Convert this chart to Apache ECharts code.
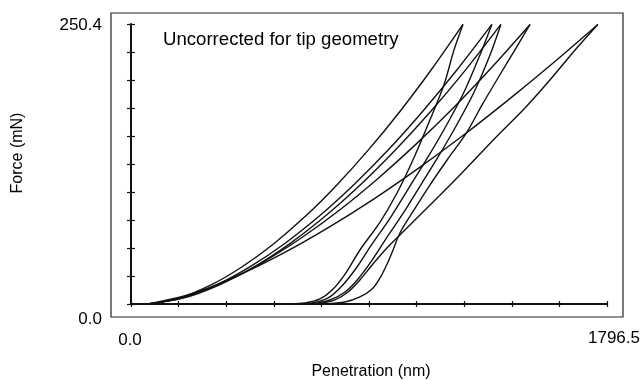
<!DOCTYPE html>
<html>
<head>
<meta charset="utf-8">
<script src="https://cdn.jsdelivr.net/npm/echarts@6/dist/echarts.min.js"></script>
<style>html,body{margin:0;padding:0;background:#fff;}#c{width:644px;height:380px;}</style>
</head>
<body>
<div id="c"></div>
<script>
// Axis ranges and tick labels
const xMax = 1796.5;
const yMax = 250.4;
const xTickLabels = ['0.0', '1796.5'];
const yTickLabels = ['0.0', '250.4'];
const xTitle = 'Penetration (nm)';
const yTitle = 'Force (mN)';
const noteText = 'Uncorrected for tip geometry';

// Loading curves [penetration nm, force mN]
const load1 = [[64,0],[183,5.4],[302,17.0],[421,33.5],[540,54.1],[659,78.6],[777,106.5],[896,137.8],[1015,172.2],[1134,209.7],[1253,250]];
const load2 = [[64,0],[194,5.5],[324,17.3],[453,33.9],[583,54.6],[713,79.1],[843,107.1],[973,138.3],[1102,172.6],[1232,209.9],[1362,250]];
const load3 = [[64,0],[197,5.2],[330,16.7],[464,33.1],[597,53.6],[730,78.0],[863,106.0],[996,137.3],[1130,171.9],[1263,209.4],[1396,250]];
const load4 = [[64,0],[208,6.6],[352,19.7],[497,37.3],[641,58.8],[785,83.6],[929,111.6],[1073,142.3],[1218,175.7],[1362,211.7],[1506,250]];
const load5 = [[64,0],[234,9.5],[404,25.4],[573,45.2],[743,68.1],[913,93.4],[1083,121.1],[1253,150.7],[1422,182.1],[1592,215.3],[1762,250]];

// Unloading curves
const unload1 = [[1253,250],[1219,227.2],[1181,195.9],[1125,162.8],[1064,128.8],[1004,99.3],[940,73.3],[864,48.3],[808,26.8],[759,12.5],[713,4.5],[657,0.9],[600,0]];
const unload2 = [[1362,250],[1317,222.7],[1257,189.6],[1189,159.2],[1121,131.5],[1053,105.5],[978,76.9],[910,53.7],[853,33.1],[796,16.1],[744,5.4],[683,0.9],[619,0]];
const unload3 = [[1396,250],[1355,222.7],[1295,189.6],[1227,159.2],[1159,131.5],[1091,105.5],[1023,79.6],[959,57.2],[910,39.3],[857,22.4],[808,10.7],[751,3.6],[683,0]];
const unload4 = [[1506,250],[1449,227.2],[1385,202.1],[1325,178.0],[1268,153.8],[1193,128.8],[1128,106.4],[1068,84.1],[1015,63.5],[989,48.3],[970,37.6],[940,23.3],[910,13.4],[864,6.3],[808,1.8],[732,0]];
const unload5 = [[1762,250],[1676,227.2],[1581,200.3],[1487,175.3],[1393,152.9],[1306,131.5],[1234,113.6],[1159,95.7],[1083,77.8],[1015,61.7],[959,48.3],[910,34.9],[864,21.5],[819,10.7],[770,3.6],[706,0]];

const curves = [load1, load2, load3, load4, load5, unload1, unload2, unload3, unload4, unload5];

const chart = echarts.init(document.getElementById('c'), null, {renderer: 'canvas'});
const axisCommon = {type: 'value', splitLine: {show: false}, axisLabel: {show: false}};
const lineCol = '#111';
const font17 = '17px "Liberation Sans", Arial, sans-serif';
const font16 = '16px "Liberation Sans", Arial, sans-serif';

chart.setOption({
  animation: false,
  backgroundColor: '#fff',
  grid: {left: 131, right: 37, top: 24, bottom: 76, containLabel: false},
  xAxis: [
    Object.assign({}, axisCommon, {min: 0, max: xMax, interval: xMax / 10, position: 'bottom',
      axisLine: {show: true, lineStyle: {color: lineCol, width: 2}},
      axisTick: {show: true, length: 3, lineStyle: {color: lineCol, width: 1.2}}}),
    Object.assign({}, axisCommon, {min: 0, max: xMax, interval: xMax / 10, position: 'bottom',
      axisLine: {show: false},
      axisTick: {show: true, inside: true, length: 3, lineStyle: {color: lineCol, width: 1.2}}})
  ],
  yAxis: [
    Object.assign({}, axisCommon, {min: 0, max: yMax, interval: yMax / 10, position: 'left',
      axisLine: {show: true, lineStyle: {color: lineCol, width: 2}},
      axisTick: {show: true, length: 4, lineStyle: {color: lineCol, width: 1.2}}}),
    Object.assign({}, axisCommon, {min: 0, max: yMax, interval: yMax / 10, position: 'left',
      axisLine: {show: false},
      axisTick: {show: true, inside: true, length: 4, lineStyle: {color: lineCol, width: 1.2}}})
  ],
  series: curves.map(function (d) {
    return {
      type: 'line', data: d, xAxisIndex: 0, yAxisIndex: 0,
      showSymbol: false, symbol: 'none', smooth: 0.3,
      lineStyle: {color: lineCol, width: 1.4}, silent: true
    };
  }),
  graphic: [
    {type: 'rect', shape: {x: 111, y: 13, width: 512, height: 304}, style: {fill: 'none', stroke: '#222', lineWidth: 1.2}, silent: true},
    {type: 'text', style: {text: yTickLabels[1], x: 102, y: 25, align: 'right', verticalAlign: 'middle', font: font17, fill: '#000'}},
    {type: 'text', style: {text: yTickLabels[0], x: 102, y: 319, align: 'right', verticalAlign: 'middle', font: font17, fill: '#000'}},
    {type: 'text', style: {text: xTickLabels[0], x: 130, y: 340, align: 'center', verticalAlign: 'middle', font: font17, fill: '#000'}},
    {type: 'text', style: {text: xTickLabels[1], x: 614, y: 338, align: 'center', verticalAlign: 'middle', font: font17, fill: '#000'}},
    {type: 'text', style: {text: xTitle, x: 371, y: 372, align: 'center', verticalAlign: 'middle', font: font16, fill: '#000'}},
    {type: 'text', x: 18, y: 153, rotation: Math.PI / 2, style: {text: yTitle, x: 0, y: 0, align: 'center', verticalAlign: 'middle', font: font16, fill: '#000'}},
    {type: 'text', style: {text: noteText, x: 163, y: 40, align: 'left', verticalAlign: 'middle', font: '18.6px "Liberation Sans", Arial, sans-serif', fill: '#000'}}
  ]
});
</script>
</body>
</html>
